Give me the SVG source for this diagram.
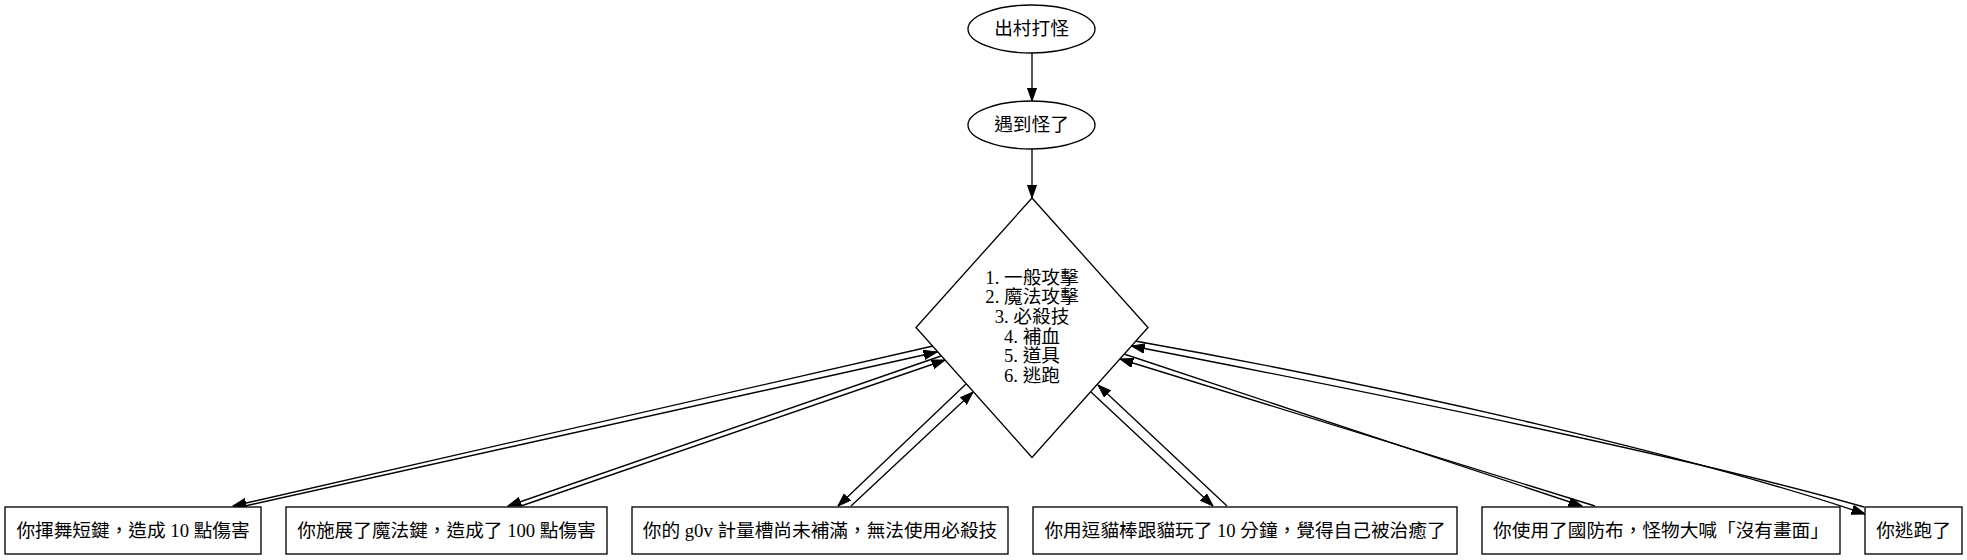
<svg xmlns="http://www.w3.org/2000/svg" width="1967" height="560" viewBox="0 0 1967 560">
<style>
  .shape { fill: #ffffff; stroke: #000000; stroke-width: 1.33; }
  .lbl { font-family: "Liberation Serif", "Noto Sans CJK TC", serif; font-size: 18.67px; fill: #000000; text-anchor: middle; }
  .edge { fill: none; stroke: #000000; stroke-width: 1.33; marker-end: url(#arrow); }
</style>
<defs>
  <marker id="arrow" markerUnits="userSpaceOnUse" markerWidth="14" markerHeight="10" refX="13.3" refY="4.67" orient="auto">
    <path d="M0,0 L13.3,4.67 L0,9.33 Z" fill="#000000" stroke="#000000" stroke-width="1"/>
  </marker>
</defs>
<rect width="1967" height="560" fill="#ffffff"/>

<g id="connectors">
  <path class="edge" d="M1032,53 L1032,101"/>
  <path class="edge" d="M1032,149 L1032,198"/>
  <!-- box1 -->
  <path class="edge" d="M933,346 L233,506"/>
  <path class="edge" d="M245,506 L937,352"/>
  <!-- box2 -->
  <path class="edge" d="M941,356 L508,506"/>
  <path class="edge" d="M521,506 L945,360"/>
  <!-- box3 -->
  <path class="edge" d="M966,384 L838,506"/>
  <path class="edge" d="M851,506 L973,392"/>
  <!-- box4 -->
  <path class="edge" d="M1091,392 L1213,506"/>
  <path class="edge" d="M1227,506 L1098,385"/>
  <!-- box5 -->
  <path class="edge" d="M1124,354 L1582,506"/>
  <path class="edge" d="M1595,506 L1120,359"/>
  <!-- box6 -->
  <path class="edge" d="M1135,341 C1400,388 1700,458 1865,514"/>
  <path class="edge" d="M1864,507 C1700,460 1400,398 1131.5,346"/>
</g>

<g id="start">
  <ellipse class="shape" cx="1031.5" cy="29" rx="63.5" ry="24"/>
  <text class="lbl" x="1031.5" y="35">出村打怪</text>
</g>
<g id="encounter">
  <ellipse class="shape" cx="1031.5" cy="125" rx="63.5" ry="24"/>
  <text class="lbl" x="1031.5" y="131">遇到怪了</text>
</g>
<g id="choice">
  <polygon class="shape" points="1032,198 1148,327.5 1032,457.5 916,327.5"/>
  <text class="lbl" x="1032" y="283.5">1. 一般攻擊</text>
  <text class="lbl" x="1032" y="303.2">2. 魔法攻擊</text>
  <text class="lbl" x="1032" y="322.9">3. 必殺技</text>
  <text class="lbl" x="1032" y="342.6">4. 補血</text>
  <text class="lbl" x="1032" y="362.3">5. 道具</text>
  <text class="lbl" x="1032" y="382">6. 逃跑</text>
</g>
<g id="attack">
  <rect class="shape" x="5" y="507" width="256" height="47"/>
  <text class="lbl" x="133" y="536.5">你揮舞短鍵，造成 10 點傷害</text>
</g>
<g id="magic">
  <rect class="shape" x="286" y="507" width="321" height="47"/>
  <text class="lbl" x="446.5" y="536.5">你施展了魔法鍵，造成了 100 點傷害</text>
</g>
<g id="special">
  <rect class="shape" x="632" y="507" width="376" height="47"/>
  <text class="lbl" x="820" y="536.5">你的 g0v 計量槽尚未補滿，無法使用必殺技</text>
</g>
<g id="heal">
  <rect class="shape" x="1033" y="507" width="424" height="47"/>
  <text class="lbl" x="1245" y="536.5">你用逗貓棒跟貓玩了 10 分鐘，覺得自己被治癒了</text>
</g>
<g id="item">
  <rect class="shape" x="1482" y="507" width="358" height="47"/>
  <text class="lbl" x="1661" y="536.5">你使用了國防布，怪物大喊「沒有畫面」</text>
</g>
<g id="escape">
  <rect class="shape" x="1865" y="507" width="97" height="47"/>
  <text class="lbl" x="1913.5" y="536.5">你逃跑了</text>
</g>
</svg>
